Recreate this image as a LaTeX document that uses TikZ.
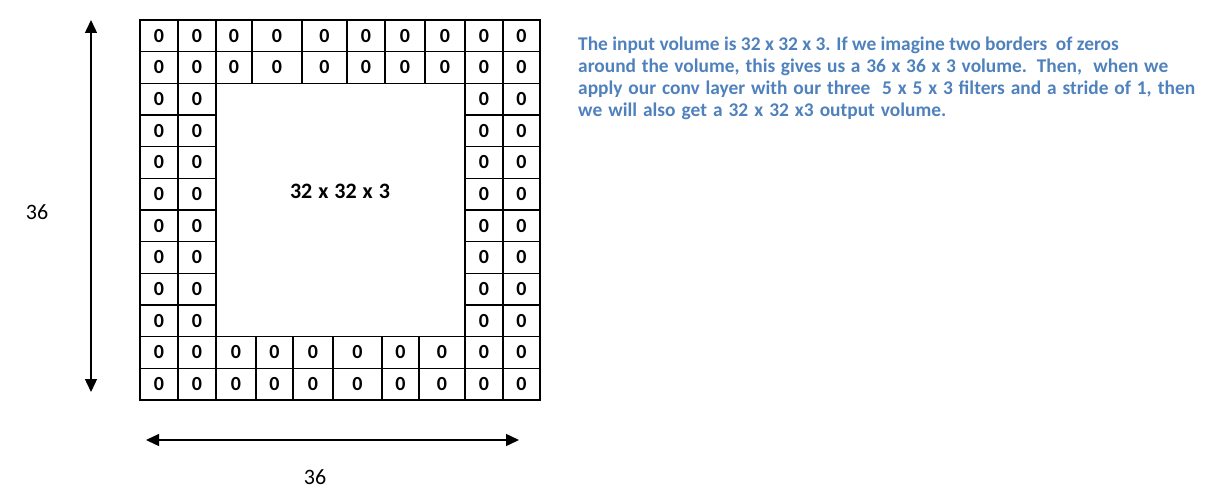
\documentclass[tikz,border=0pt]{standalone}
\usepackage{fontspec}
\setmainfont{Carlito}
\usetikzlibrary{arrows.meta}
\definecolor{txtblue}{RGB}{79,129,189}
\begin{document}
\begin{tikzpicture}[x=1pt,y=-1pt,
  cell/.style={draw, line width=1.1pt, inner sep=0pt, outer sep=0pt,
    minimum height=31.667pt, font=\fontsize{20}{20}\selectfont\bfseries},
  dimarrow/.style={line width=1.4pt, {Triangle[width=12pt,length=13pt]}-{Triangle[width=12pt,length=13pt]}},
  dimlabel/.style={font=\fontsize{22}{22}\selectfont, inner sep=0pt},
  bluetext/.style={font=\fontsize{19.4}{19.4}\selectfont\bfseries, text=txtblue, anchor=base west, inner sep=0pt}
]
\useasboundingbox (0,0) rectangle (1220,500);
% top two rows
\foreach \r in {1,2}{
  \foreach \a/\b [count=\i] in {140/178,178/216,216/252,252/302,302/347,347/385,385/425,425/465,465/503,503/540}{
    \pgfmathsetmacro{\cx}{(\a+\b)/2}
    \pgfmathsetmacro{\w}{\b-\a}
    \pgfmathsetmacro{\cy}{20+(\r-1)*31.667+15.833}
    \node[cell, minimum width=\w pt] (c-\r-\i) at (\cx,\cy) {0};
  }
}
% middle rows
\foreach \r in {3,...,10}{
  \foreach \a/\b [count=\i] in {140/178,178/216,465/503,503/540}{
    \pgfmathsetmacro{\cx}{(\a+\b)/2}
    \pgfmathsetmacro{\w}{\b-\a}
    \pgfmathsetmacro{\cy}{20+(\r-1)*31.667+15.833}
    \node[cell, minimum width=\w pt] (c-\r-\i) at (\cx,\cy) {0};
  }
}
% bottom two rows
\foreach \r in {11,12}{
  \foreach \a/\b [count=\i] in {140/178,178/216,216/256,256/293,293/333,333/382,382/419,419/465,465/503,503/540}{
    \pgfmathsetmacro{\cx}{(\a+\b)/2}
    \pgfmathsetmacro{\w}{\b-\a}
    \pgfmathsetmacro{\cy}{20+(\r-1)*31.667+15.833}
    \node[cell, minimum width=\w pt] (c-\r-\i) at (\cx,\cy) {0};
  }
}
\node[font=\fontsize{22}{22}\selectfont\bfseries, inner sep=0pt] (inner) at (340,191) {32\hspace{6pt}x\hspace{6pt}32\hspace{6pt}x\hspace{6pt}3};
% dimension arrows
\coordinate (vtop) at (91,20);
\coordinate (vbot) at (91,392);
\draw[dimarrow] (vtop) -- (vbot);
\node[dimlabel] (vlab) at (37,212) {36};
\coordinate (hleft) at (146,440);
\coordinate (hright) at (519,440);
\draw[dimarrow] (hleft) -- (hright);
\node[dimlabel] (hlab) at (315,477) {36};
% explanation
\node[bluetext] (t1) at (578,50.7) {The input volume is 32 x 32 x 3. If we imagine two borders\ \ of zeros};
\node[bluetext] (t2) at (578,72.8) {\makebox[590pt][s]{around the volume, this gives us a 36 x 36 x 3 volume. Then,\ \ when we}};
\node[bluetext] (t3) at (578,94.9) {\makebox[617pt][s]{apply our conv layer with our three\ \ 5 x 5 x 3 filters and a stride of 1, then}};
\node[bluetext] (t4) at (578,117) {\makebox[368pt][s]{we will also get a 32 x 32 x3 output volume.}};
\end{tikzpicture}
\end{document}
